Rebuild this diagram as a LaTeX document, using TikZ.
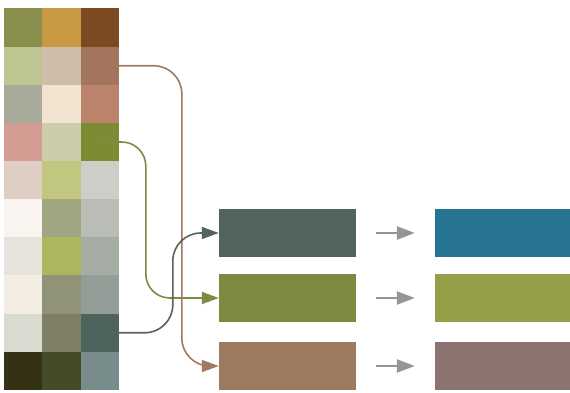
\documentclass[tikz,border=0pt]{standalone}
\usepackage{tikz}
\usetikzlibrary{arrows.meta,positioning,calc}
% swatch colours, row by row
\definecolor{PalA1}{HTML}{8A8F4E}
\definecolor{PalA2}{HTML}{C89A43}
\definecolor{PalA3}{HTML}{7B4A22}
\definecolor{PalB1}{HTML}{BFC591}
\definecolor{PalB2}{HTML}{CDBDAA}
\definecolor{PalB3}{HTML}{A2755C}
\definecolor{PalC1}{HTML}{A9AB9A}
\definecolor{PalC2}{HTML}{F3E4D2}
\definecolor{PalC3}{HTML}{BC836C}
\definecolor{PalD1}{HTML}{D49D94}
\definecolor{PalD2}{HTML}{CDCCAA}
\definecolor{PalD3}{HTML}{7D8C33}
\definecolor{PalE1}{HTML}{DFCEC3}
\definecolor{PalE2}{HTML}{C1C77E}
\definecolor{PalE3}{HTML}{CCCEC8}
\definecolor{PalF1}{HTML}{FAF4F0}
\definecolor{PalF2}{HTML}{A0A682}
\definecolor{PalF3}{HTML}{BABDB6}
\definecolor{PalG1}{HTML}{E8E2DD}
\definecolor{PalG2}{HTML}{ABB65E}
\definecolor{PalG3}{HTML}{A5ACA4}
\definecolor{PalH1}{HTML}{F4EDE3}
\definecolor{PalH2}{HTML}{919378}
\definecolor{PalH3}{HTML}{949E98}
\definecolor{PalI1}{HTML}{D9DAD0}
\definecolor{PalI2}{HTML}{7E7F64}
\definecolor{PalI3}{HTML}{4C645C}
\definecolor{PalJ1}{HTML}{343114}
\definecolor{PalJ2}{HTML}{454B28}
\definecolor{PalJ3}{HTML}{798C8C}
% picked and mapped colours
\definecolor{PalSlate}{HTML}{52645C}
\definecolor{PalOlive}{HTML}{7E8A41}
\definecolor{PalBrown}{HTML}{9C7A60}
\definecolor{PalLink}{HTML}{A27860}
\definecolor{PalTeal}{HTML}{277392}
\definecolor{PalMoss}{HTML}{959F48}
\definecolor{PalMauve}{HTML}{8B7470}
\definecolor{PalGray}{HTML}{94959A}
\tikzset{
  pal/cell/.style={
    draw=none,
    inner sep=0pt,
    minimum width=38.4pt,
    minimum height=38.3pt
  },
  pal/swatch/.style={
    draw=none,
    inner sep=0pt,
    minimum width=137pt,
    minimum height=48pt
  },
  pal/link/.style={-{Triangle[length=17pt,width=12pt]}, line width=1.6pt},
  pal/grayarrow/.style={-{Triangle[length=18pt,width=13pt]}, line width=2.6pt, draw=PalGray,
    shorten <=20pt, shorten >=20pt}
}

\begin{document}
\begin{tikzpicture}[x=1pt,y=-1pt]
  \useasboundingbox (0,0) rectangle (570,393);
  % palette grid
  \foreach \row [count=\r] in {A,B,C,D,E,F,G,H,I,J} {
    \foreach \c in {1,2,3} {
      \node[pal/cell,fill=Pal\row\c] (c-\r-\c) at ({4+38.33*(\c-0.5)},{8.5+38.15*(\r-0.5)}) {};
    }
  }
  % picked colours
  \node[pal/swatch,fill=PalSlate] (mid-1) at (287.5,233) {};
  \node[pal/swatch,fill=PalOlive] (mid-2) at (287.5,298) {};
  \node[pal/swatch,fill=PalBrown] (mid-3) at (287.5,366) {};
  % mapped colours
  \node[pal/swatch,minimum width=135pt,fill=PalTeal] (right-1) at (502.5,233) {};
  \node[pal/swatch,minimum width=135pt,fill=PalMoss] (right-2) at (502.5,298) {};
  \node[pal/swatch,minimum width=135pt,fill=PalMauve] (right-3) at (502.5,366) {};
  % links from grid to picked colours
  \draw[pal/link,draw=PalLink] (c-2-3.center) [rounded corners=28pt] -| ([xshift=-37pt]mid-3.west)
    [rounded corners=15pt] -- (mid-3.west);
  \draw[pal/link,draw=PalOlive] (c-4-3.center) [rounded corners=24pt] -| ([xshift=-73pt]mid-2.west)
    [rounded corners=17pt] -- (mid-2.west);
  \draw[pal/link,draw=PalSlate] (c-9-3.center) [rounded corners=28pt] -| ([xshift=-46pt]mid-1.west)
    [rounded corners=16pt] -- (mid-1.west);
  % mapping arrows
  \draw[pal/grayarrow] (mid-1) -- (right-1);
  \draw[pal/grayarrow] (mid-2) -- (right-2);
  \draw[pal/grayarrow] (mid-3) -- (right-3);
\end{tikzpicture}
\end{document}
